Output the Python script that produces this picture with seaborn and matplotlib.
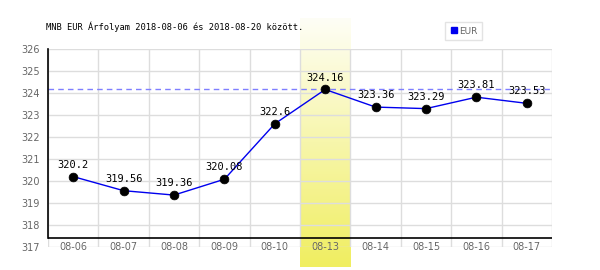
import matplotlib
matplotlib.use("Agg")
import matplotlib.pyplot as plt
import numpy as np
import pandas as pd
import seaborn as sns
from matplotlib.colors import LinearSegmentedColormap
from matplotlib.lines import Line2D

dates = ["08-06", "08-07", "08-08", "08-09", "08-10", "08-13", "08-14", "08-15", "08-16", "08-17"]
values = [320.2, 319.56, 319.36, 320.08, 322.6, 324.16, 323.36, 323.29, 323.81, 323.53]
yticks = [317, 318, 319, 320, 321, 322, 323, 324, 325, 326]
title = "MNB EUR Árfolyam 2018-08-06 és 2018-08-20 között."
series_name = "EUR"
highlight = "08-13"

sns.set_style("white")
plt.rcParams['font.family'] = ['DejaVu Sans']

df = pd.DataFrame({"date": dates, "value": values})
df["x"] = np.arange(len(dates))

fig = plt.figure(figsize=(6, 2.7), dpi=100)
ax = fig.add_axes([48/600, 1-247/270, 504/600, 198/270])

ax.set_xlim(-0.5, len(dates) - 0.5)
ax.set_ylim(min(yticks), max(yticks))

# highlight band with gradient
hi = dates.index(highlight)
cmap = LinearSegmentedColormap.from_list("hl", ["#fefef6", "#f0ee60"])
grad = np.linspace(0, 1, 256).reshape(-1, 1)
ypx = 198 / (max(yticks) - min(yticks))
ax.imshow(grad, cmap=cmap, aspect="auto", origin="upper",
          extent=[hi - 0.5, hi + 0.5, min(yticks) - 20/ypx, max(yticks) + 30/ypx],
          clip_on=False, zorder=0.5)

# grid
ax.set_yticks(yticks)
ax.set_xticks(df["x"])
ax.set_xticks(np.arange(-0.5, len(dates), 1), minor=True)
ax.grid(True, axis="y", which="major", color="#dddddd", lw=1, zorder=1)
ax.grid(True, axis="x", which="minor", color="#dddddd", lw=1, zorder=1)
ax.grid(False, axis="x", which="major")
ax.tick_params(axis="x", which="both", length=0)
ax.tick_params(axis="y", length=0, pad=6, labelsize=7, labelcolor="#666666")
ax.set_xticklabels(dates, fontsize=7, color="#666666")
ax.tick_params(axis="x", pad=0)
for t in ax.get_xticklabels():
    t.set_verticalalignment("center")

for s in ["top", "right", "bottom"]:
    ax.spines[s].set_visible(False)
ax.spines["left"].set_color("black")
ax.spines["left"].set_linewidth(1.2)
ax.spines["left"].set_bounds(min(yticks) + 9/ypx, max(yticks))

# x axis black line
ax.axhline(min(yticks) + 9/ypx, color="black", lw=1.2, zorder=3)

# max dashed line
ax.axhline(max(values), color="#7f7fff", lw=1, ls=(0, (4, 3)), zorder=2)

sns.lineplot(data=df, x="x", y="value", ax=ax, color="#0000ee", lw=1, zorder=4, legend=False)
sns.scatterplot(data=df, x="x", y="value", ax=ax, color="black", s=40, zorder=5, legend=False, edgecolor="black")

for xi, v in zip(df["x"], values):
    ax.annotate(f"{v:g}", (xi, v), xytext=(0, 5), textcoords="offset points",
                ha="center", va="bottom", fontsize=7.5, family="DejaVu Sans Mono",
                color="black", zorder=6)

ax.set_xlabel("")
ax.set_ylabel("")

fig.text(46/600, 1-27/270, title, fontsize=6.3, family="DejaVu Sans Mono", va="center", ha="left",
         color="black")

handle = Line2D([], [], marker="s", color="#0000ee", ls="none", markersize=5)
leg = fig.legend([handle], [series_name], loc="upper left", bbox_to_anchor=(445/600, 1-22/270),
                 fontsize=6.5, frameon=True, fancybox=False, handletextpad=0.1,
                 borderpad=0.5, handlelength=1, borderaxespad=0)
leg.get_frame().set_edgecolor("#dddddd")
leg.get_frame().set_linewidth(1)
for t in leg.get_texts():
    t.set_color("#666666")

fig.savefig("out.png", dpi=100)
